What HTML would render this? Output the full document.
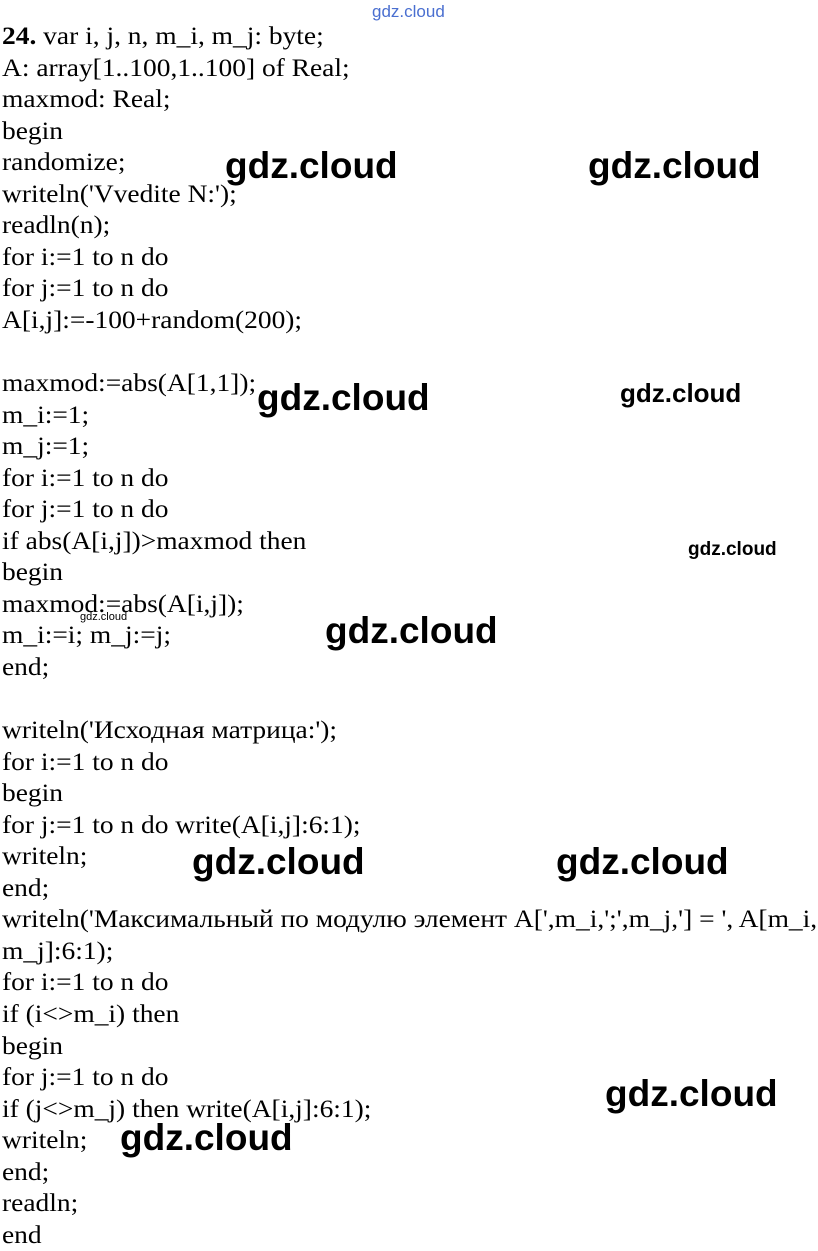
<!DOCTYPE html>
<html><head><meta charset="utf-8"><style>
html,body{margin:0;padding:0;background:#fff;}
body{width:818px;height:1243px;position:relative;overflow:hidden;}
.code{position:absolute;left:2px;top:21px;font-family:"Liberation Serif","Noto Serif CJK SC",serif;font-size:25px;line-height:31.55px;color:#000;white-space:pre;transform:scaleX(1.098);transform-origin:0 0;}
.w{position:absolute;font-family:"Liberation Sans","DejaVu Sans",sans-serif;font-weight:bold;color:#000;white-space:nowrap;line-height:1;}
</style></head><body>
<div class="code"><b>24.</b> var i, j, n, m_i, m_j: byte;
A: array[1..100,1..100] of Real;
maxmod: Real;
begin
randomize;
writeln('Vvedite N:');
readln(n);
for i:=1 to n do
for j:=1 to n do
A[i,j]:=-100+random(200);

maxmod:=abs(A[1,1]);
m_i:=1;
m_j:=1;
for i:=1 to n do
for j:=1 to n do
if abs(A[i,j])&gt;maxmod then
begin
maxmod:=abs(A[i,j]);
m_i:=i; m_j:=j;
end;

writeln('Исходная матрица:');
for i:=1 to n do
begin
for j:=1 to n do write(A[i,j]:6:1);
writeln;
end;
writeln('Максимальный по модулю элемент A[',m_i,';',m_j,'] = ', A[m_i,
m_j]:6:1);
for i:=1 to n do
if (i&lt;&gt;m_i) then
begin
for j:=1 to n do
if (j&lt;&gt;m_j) then write(A[i,j]:6:1);
writeln;
end;
readln;
end</div>
<div class="w" style="left:372px;top:3px;font-size:17px;color:#4a6fd0;font-weight:normal;">gdz.cloud</div>
<div class="w" style="left:225px;top:147px;font-size:37px;">gdz.cloud</div>
<div class="w" style="left:588px;top:147px;font-size:37px;">gdz.cloud</div>
<div class="w" style="left:257px;top:379px;font-size:37px;">gdz.cloud</div>
<div class="w" style="left:620px;top:380px;font-size:26px;">gdz.cloud</div>
<div class="w" style="left:688px;top:540px;font-size:19px;">gdz.cloud</div>
<div class="w" style="left:80px;top:612px;font-size:11px;font-weight:normal;">gdz.cloud</div>
<div class="w" style="left:325px;top:612px;font-size:37px;">gdz.cloud</div>
<div class="w" style="left:192px;top:843px;font-size:37px;">gdz.cloud</div>
<div class="w" style="left:556px;top:843px;font-size:37px;">gdz.cloud</div>
<div class="w" style="left:605px;top:1075px;font-size:37px;">gdz.cloud</div>
<div class="w" style="left:120px;top:1119px;font-size:37px;">gdz.cloud</div>
</body></html>
